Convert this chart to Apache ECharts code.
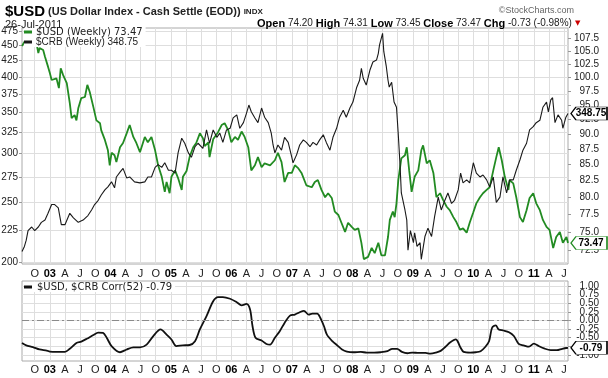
<!DOCTYPE html>
<html>
<head>
<meta charset="utf-8">
<title>$USD vs $CRB weekly</title>
<script src="https://cdn.jsdelivr.net/npm/echarts@6/dist/echarts.min.js"></script>
<style>
  html, body { margin: 0; padding: 0; background: #fff; }
  #chart { width: 608px; height: 378px; }
</style>
</head>
<body>
<div id="chart"></div>
<script>
// x values are decimal years (weekly closes)
const usdWeekly = [
  [2002.54,106.0],[2002.60,107.2],[2002.68,107.6],[2002.75,107.0],[2002.78,106.5],[2002.81,104.6],
  [2002.83,105.6],[2002.89,105.2],[2002.92,103.9],[2002.97,102.0],[2003.00,100.8],[2003.03,99.5],
  [2003.11,99.8],[2003.15,98.0],[2003.18,101.7],[2003.22,100.4],[2003.28,98.9],[2003.33,95.3],
  [2003.36,92.7],[2003.41,93.2],[2003.44,92.3],[2003.47,94.4],[2003.52,96.2],[2003.58,96.4],
  [2003.62,98.6],[2003.66,97.3],[2003.72,94.6],[2003.77,92.3],[2003.83,91.8],[2003.85,90.6],
  [2003.91,89.0],[2003.96,87.3],[2003.99,84.9],[2004.02,86.9],[2004.07,86.5],[2004.10,85.4],
  [2004.16,87.8],[2004.21,88.5],[2004.27,90.1],[2004.32,91.5],[2004.38,89.5],[2004.43,88.5],
  [2004.49,87.0],[2004.57,89.5],[2004.62,88.6],[2004.68,89.5],[2004.74,87.3],[2004.79,84.9],
  [2004.85,83.1],[2004.90,80.8],[2004.93,82.3],[2004.98,80.6],[2005.01,83.1],[2005.07,84.1],
  [2005.12,82.9],[2005.18,81.1],[2005.20,83.1],[2005.26,84.0],[2005.31,86.2],[2005.37,87.8],
  [2005.42,88.5],[2005.48,90.1],[2005.53,89.3],[2005.56,88.0],[2005.62,88.6],[2005.64,86.2],
  [2005.70,89.1],[2005.78,90.3],[2005.84,91.5],[2005.89,91.8],[2005.95,90.6],[2006.00,88.6],
  [2006.06,89.5],[2006.11,89.0],[2006.17,90.4],[2006.22,89.5],[2006.28,87.8],[2006.33,84.1],
  [2006.39,84.9],[2006.44,86.2],[2006.50,84.6],[2006.55,85.2],[2006.64,84.9],[2006.72,85.7],
  [2006.77,86.9],[2006.83,85.4],[2006.88,82.3],[2006.94,83.7],[2007.00,83.7],[2007.05,84.9],
  [2007.10,84.5],[2007.16,83.7],[2007.24,81.8],[2007.33,81.5],[2007.38,82.3],[2007.43,82.6],
  [2007.49,81.1],[2007.55,80.0],[2007.60,80.6],[2007.66,79.9],[2007.71,77.9],[2007.77,77.4],
  [2007.82,76.3],[2007.88,75.0],[2007.93,76.3],[2007.99,75.7],[2008.04,75.3],[2008.10,75.5],
  [2008.15,73.5],[2008.19,71.3],[2008.26,71.6],[2008.32,72.8],[2008.37,72.1],[2008.43,73.5],
  [2008.48,71.8],[2008.54,71.8],[2008.59,74.3],[2008.62,76.7],[2008.67,77.9],[2008.70,77.1],
  [2008.73,79.1],[2008.76,82.6],[2008.81,86.0],[2008.87,86.5],[2008.90,87.8],[2008.94,84.1],
  [2008.98,80.8],[2009.03,83.1],[2009.09,84.1],[2009.14,87.3],[2009.17,88.1],[2009.23,85.2],
  [2009.28,85.7],[2009.34,83.7],[2009.39,80.0],[2009.45,80.6],[2009.50,79.6],[2009.56,78.6],
  [2009.61,78.1],[2009.67,77.1],[2009.72,76.4],[2009.78,75.3],[2009.83,75.5],[2009.89,74.9],
  [2009.94,76.3],[2010.00,77.8],[2010.05,79.1],[2010.11,80.0],[2010.16,80.6],[2010.22,81.1],
  [2010.27,81.5],[2010.33,84.1],[2010.38,86.2],[2010.42,87.8],[2010.47,85.7],[2010.52,83.1],
  [2010.58,81.1],[2010.60,82.6],[2010.66,82.1],[2010.71,80.0],[2010.77,77.1],[2010.82,76.4],
  [2010.88,78.1],[2010.93,79.9],[2010.99,80.6],[2011.04,79.1],[2011.10,78.1],[2011.15,76.7],
  [2011.21,75.7],[2011.26,75.3],[2011.32,72.8],[2011.37,74.3],[2011.43,75.0],[2011.48,73.5],
  [2011.54,74.3],[2011.565,73.47]
];

const crbWeekly = [
  [2002.54,208],[2002.58,212],[2002.61,217],[2002.64,225],[2002.70,228],[2002.75,225],[2002.81,228],
  [2002.86,232],[2002.92,234],[2002.97,240],[2003.03,248],[2003.08,248],[2003.14,245],[2003.19,230],
  [2003.25,230],[2003.33,240],[2003.39,236],[2003.47,232],[2003.55,234],[2003.63,238],[2003.69,243],
  [2003.74,248],[2003.80,252],[2003.85,257],[2003.91,262],[2003.96,265],[2004.02,270],[2004.07,264],
  [2004.10,275],[2004.16,280],[2004.21,284],[2004.27,274],[2004.32,275],[2004.40,270],[2004.49,269],
  [2004.57,270],[2004.62,275],[2004.68,275],[2004.74,285],[2004.79,288],[2004.85,285],[2004.90,290],
  [2004.96,282],[2005.01,282],[2005.07,279],[2005.12,301],[2005.18,318],[2005.23,312],[2005.29,301],
  [2005.34,296],[2005.40,308],[2005.45,312],[2005.48,310],[2005.53,306],[2005.59,328],[2005.64,312],
  [2005.70,328],[2005.76,319],[2005.81,324],[2005.86,313],[2005.92,328],[2005.98,330],[2006.03,343],
  [2006.09,347],[2006.14,330],[2006.20,337],[2006.25,349],[2006.29,360],[2006.33,351],[2006.39,343],
  [2006.44,337],[2006.50,356],[2006.55,344],[2006.61,337],[2006.66,324],[2006.69,310],[2006.72,301],
  [2006.77,310],[2006.83,304],[2006.88,319],[2006.94,313],[2007.00,296],[2007.02,290],[2007.08,299],
  [2007.13,310],[2007.19,316],[2007.24,313],[2007.30,308],[2007.35,313],[2007.41,310],[2007.46,316],
  [2007.52,322],[2007.57,313],[2007.63,304],[2007.68,319],[2007.74,330],[2007.79,344],[2007.85,353],
  [2007.90,344],[2007.96,356],[2008.01,364],[2008.07,384],[2008.12,395],[2008.15,413],[2008.18,398],
  [2008.23,388],[2008.29,410],[2008.34,423],[2008.40,426],[2008.43,437],[2008.45,451],[2008.50,471],
  [2008.52,440],[2008.56,417],[2008.59,395],[2008.61,385],[2008.65,392],[2008.69,364],[2008.73,357],
  [2008.76,322],[2008.79,286],[2008.81,259],[2008.87,243],[2008.90,234],[2008.92,209],[2008.96,225],
  [2009.01,215],[2009.03,223],[2009.07,212],[2009.12,215],[2009.14,202],[2009.20,220],[2009.25,227],
  [2009.31,220],[2009.36,237],[2009.42,255],[2009.47,243],[2009.53,252],[2009.58,259],[2009.64,249],
  [2009.69,252],[2009.75,262],[2009.79,279],[2009.83,269],[2009.89,272],[2009.94,269],[2010.00,290],
  [2010.05,279],[2010.11,275],[2010.16,277],[2010.22,272],[2010.27,265],[2010.33,275],[2010.38,250],
  [2010.44,255],[2010.49,275],[2010.55,259],[2010.60,272],[2010.66,272],[2010.71,282],[2010.77,293],
  [2010.82,304],[2010.88,312],[2010.93,328],[2010.99,332],[2011.04,337],[2011.10,340],[2011.15,357],
  [2011.21,364],[2011.24,351],[2011.28,367],[2011.31,370],[2011.35,337],[2011.40,347],[2011.46,340],
  [2011.48,330],[2011.53,344],[2011.565,348.75]
];

// 52-week correlation, lower panel
const corr52 = [
  [2002.54,-0.65],[2002.61,-0.72],[2002.72,-0.77],[2002.83,-0.84],[2002.95,-0.87],[2003.00,-0.90],
  [2003.11,-0.91],[2003.25,-0.91],[2003.33,-0.82],[2003.44,-0.65],[2003.52,-0.61],[2003.61,-0.53],
  [2003.72,-0.42],[2003.80,-0.35],[2003.88,-0.36],[2003.94,-0.50],[2004.02,-0.74],[2004.16,-0.92],
  [2004.27,-0.84],[2004.38,-0.78],[2004.49,-0.78],[2004.60,-0.70],[2004.71,-0.45],[2004.83,-0.26],
  [2004.93,-0.41],[2005.01,-0.55],[2005.09,-0.74],[2005.20,-0.72],[2005.31,-0.71],[2005.40,-0.60],
  [2005.48,-0.26],[2005.59,0.13],[2005.70,0.56],[2005.78,0.68],[2005.86,0.68],[2005.98,0.63],
  [2006.09,0.53],[2006.17,0.44],[2006.25,0.48],[2006.31,0.32],[2006.35,-0.16],[2006.40,-0.50],
  [2006.50,-0.58],[2006.58,-0.68],[2006.64,-0.70],[2006.72,-0.50],[2006.80,-0.31],[2006.88,-0.07],
  [2006.97,0.14],[2007.05,0.17],[2007.13,0.24],[2007.20,0.28],[2007.28,0.17],[2007.34,0.20],
  [2007.42,0.20],[2007.47,0.08],[2007.53,-0.16],[2007.58,-0.41],[2007.67,-0.60],[2007.75,-0.72],
  [2007.83,-0.84],[2007.91,-0.90],[2008.02,-0.92],[2008.14,-0.91],[2008.24,-0.93],[2008.36,-0.93],
  [2008.47,-0.92],[2008.58,-0.89],[2008.66,-0.82],[2008.74,-0.82],[2008.82,-0.91],[2008.91,-0.95],
  [2008.99,-0.93],[2009.10,-0.94],[2009.21,-0.94],[2009.29,-0.96],[2009.38,-0.93],[2009.46,-0.88],
  [2009.54,-0.76],[2009.62,-0.63],[2009.71,-0.55],[2009.74,-0.60],[2009.79,-0.79],[2009.84,-0.91],
  [2009.95,-0.93],[2010.04,-0.92],[2010.12,-0.89],[2010.20,-0.76],[2010.26,-0.60],[2010.31,-0.21],
  [2010.37,-0.14],[2010.42,-0.26],[2010.50,-0.29],[2010.59,-0.34],[2010.67,-0.45],[2010.75,-0.68],
  [2010.83,-0.72],[2010.92,-0.76],[2011.00,-0.67],[2011.08,-0.74],[2011.17,-0.81],[2011.28,-0.86],
  [2011.38,-0.86],[2011.47,-0.82],[2011.565,-0.79]
];

const quarterTicks = [
  2002.75, 2003, 2003.25, 2003.5, 2003.75, 2004, 2004.25, 2004.5, 2004.75, 2005, 2005.25, 2005.5,
  2005.75, 2006, 2006.25, 2006.5, 2006.75, 2007, 2007.25, 2007.5, 2007.75, 2008, 2008.25, 2008.5,
  2008.75, 2009, 2009.25, 2009.5, 2009.75, 2010, 2010.25, 2010.5, 2010.75, 2011, 2011.25, 2011.5
];
const quarterLetters = ['', 'A', 'J', 'O'];
const crbTicks = [200, 225, 250, 275, 300, 325, 350, 375, 400, 425, 450, 475];
const usdTicks = [72.5, 75, 77.5, 80, 82.5, 85, 87.5, 90, 92.5, 95, 97.5, 100, 102.5, 105, 107.5];
const corrTicks = [-1, -0.75, -0.5, -0.25, 0, 0.25, 0.5, 0.75, 1];
// the corr labels sit closer than a text line, so they are split over two stacked axes
const corrLabelsA = [-1, -0.5, 0, 0.5, 1];
const corrLabelsB = [-0.75, -0.25, 0.25, 0.75];

const USD_LAST = 73.47, CRB_LAST = 348.75, CORR_LAST = -0.79;
const X_MIN = 2002.54, X_MAX = 2011.565;
const CORR_MIN = -1.174, CORR_MAX = 1.145;

const FONT = '"Liberation Sans", Arial, sans-serif';
const GREEN = '#228b22';
const GRID_LINE = '#dedede';

function quarterLabel(v) {
  const year = Math.floor(v + 1e-6);
  const q = Math.round((v - year) * 4);
  return q === 0 ? '{y|' + String(year).slice(2) + '}' : quarterLetters[q];
}

function priceTag(point, text, border) {
  return {
    silent: true,
    symbol: 'path://M0,6L5,0L36,0L36,12L5,12Z',
    symbolSize: [36, 13],
    symbolOffset: [21, 0],
    itemStyle: { color: '#fff', borderColor: border, borderWidth: 1 },
    label: {
      show: true, position: 'inside', offset: [2, 0], formatter: text,
      color: '#000', fontSize: 10, fontWeight: 'bold', fontFamily: FONT
    },
    data: [{ coord: point }]
  };
}

function timeAxis(gridIndex, margin) {
  return {
    type: 'value', gridIndex, min: X_MIN, max: X_MAX,
    axisLine: { show: false },
    axisTick: { show: false, customValues: quarterTicks },
    axisLabel: {
      customValues: quarterTicks, formatter: quarterLabel, margin, hideOverlap: false,
      fontFamily: FONT, fontSize: 11, color: '#222',
      rich: { y: { fontFamily: FONT, fontSize: 11, fontWeight: 'bold', color: '#000' } }
    },
    splitLine: { show: true, lineStyle: { color: GRID_LINE, width: 1 } }
  };
}

function priceAxis(extra) {
  return Object.assign({
    axisLine: { show: false },
    axisTick: { show: extra.tickShow !== false, length: 3, customValues: extra.ticks,
      lineStyle: { color: '#999' } },
    axisLabel: {
      customValues: extra.labels || extra.ticks, showMinLabel: true, showMaxLabel: true,
      hideOverlap: false, margin: extra.margin, align: 'right', fontFamily: FONT,
      fontSize: 10, color: '#222', formatter: extra.format
    },
    splitLine: { show: extra.split, lineStyle: { color: GRID_LINE, width: 1 } }
  }, extra.axis);
}

const chart = echarts.init(document.getElementById('chart'));

chart.setOption({
  animation: false,
  backgroundColor: '#fff',
  textStyle: { fontFamily: FONT },
  title: [
    {
      left: 5, top: 4, padding: 0,
      text: '{a|$USD} {b|(US Dollar Index - Cash Settle (EOD))} {c|INDX}',
      textStyle: {
        fontSize: 11, color: '#222',
        rich: {
          a: { fontFamily: FONT, fontSize: 15, fontWeight: 'bold', color: '#000' },
          b: { fontFamily: FONT, fontSize: 11, color: '#222' },
          c: { fontFamily: FONT, fontSize: 8, color: '#222' }
        }
      }
    },
    { left: 5, top: 19, padding: 0, text: '26-Jul-2011',
      textStyle: { fontFamily: FONT, fontSize: 11, fontWeight: 'normal', color: '#222' } },
    { right: 34, top: 6, padding: 0, text: '\u00a9StockCharts.com',
      textStyle: { fontFamily: FONT, fontSize: 9, fontWeight: 'normal', color: '#666' } },
    {
      left: 257, top: 18, padding: 0,
      text: '{k|Open} 74.20 {k|High} 74.31 {k|Low} 73.45 {k|Close} 73.47 {k|Chg} -0.73 (-0.98%){t|\u25bc}',
      textStyle: {
        fontFamily: FONT, fontSize: 10, fontWeight: 'normal', color: '#222',
        rich: {
          k: { fontFamily: FONT, fontSize: 11, fontWeight: 'bold', color: '#000' },
          t: { fontFamily: 'DejaVu Sans', fontSize: 7, color: '#cc0000', padding: [0, 0, 0, 3] }
        }
      }
    }
  ],
  legend: [
    {
      left: 24, top: 27, orient: 'vertical', itemGap: 0, padding: [0, 3, 0, 0],
      backgroundColor: '#fff', icon: 'rect', itemWidth: 8, itemHeight: 3, selectedMode: false,
      data: [
        { name: '$USD', textStyle: { fontFamily: 'DejaVu Sans', fontSize: 10 } },
        { name: '$CRB', textStyle: { fontFamily: FONT, fontSize: 10 } }
      ],
      formatter: name => name === '$USD'
        ? '$USD (Weekly) ' + USD_LAST : '$CRB (Weekly) ' + CRB_LAST,
      textStyle: { color: '#222', lineHeight: 10, padding: [0, 0, 0, -1] }
    },
    {
      left: 24, top: 282, padding: [0, 3, 0, 0], backgroundColor: '#fff',
      icon: 'rect', itemWidth: 8, itemHeight: 3, selectedMode: false,
      data: ['$USD, $CRB Corr(52)'],
      formatter: name => name + ' ' + CORR_LAST,
      textStyle: { fontFamily: 'DejaVu Sans', fontSize: 10, color: '#222', lineHeight: 10 }
    }
  ],
  grid: [
    { left: 22, top: 28, width: 546, height: 236, show: true, borderColor: '#aaa',
      borderWidth: 1, outerBoundsMode: 'none' },
    { left: 22, top: 281, width: 546, height: 80, show: true, borderColor: '#aaa',
      borderWidth: 1, outerBoundsMode: 'none' }
  ],
  xAxis: [timeAxis(0, 4), timeAxis(1, 3)],
  yAxis: [
    priceAxis({
      ticks: crbTicks, margin: 4, split: true,
      format: v => String(Math.round(v)),
      axis: { type: 'log', gridIndex: 0, position: 'left', min: 198.5, max: 480.4 }
    }),
    priceAxis({
      ticks: usdTicks, margin: 31, split: false,
      format: v => v.toFixed(1),
      axis: { type: 'log', gridIndex: 0, position: 'right', min: 70.66, max: 109.6 }
    }),
    priceAxis({
      ticks: corrTicks, labels: corrLabelsA, margin: 31, split: true,
      format: v => v.toFixed(2),
      axis: { type: 'value', gridIndex: 1, position: 'right', min: CORR_MIN, max: CORR_MAX }
    }),
    priceAxis({
      ticks: corrTicks, labels: corrLabelsB, margin: 31, split: false, tickShow: false,
      format: v => v.toFixed(2),
      axis: { type: 'value', gridIndex: 1, position: 'right', min: CORR_MIN, max: CORR_MAX }
    })
  ],
  series: [
    {
      name: '$USD', type: 'line', xAxisIndex: 0, yAxisIndex: 1, data: usdWeekly,
      showSymbol: false, clip: false, color: GREEN,
      lineStyle: { color: GREEN, width: 1.8 },
      markPoint: priceTag([X_MAX, USD_LAST], String(USD_LAST), GREEN)
    },
    {
      name: '$CRB', type: 'line', xAxisIndex: 0, yAxisIndex: 0, data: crbWeekly,
      showSymbol: false, clip: false, color: '#1a1a1a',
      lineStyle: { color: '#1a1a1a', width: 1.1 },
      markPoint: priceTag([X_MAX, CRB_LAST], CRB_LAST.toFixed(2), '#000')
    },
    {
      name: '$USD, $CRB Corr(52)', type: 'line', xAxisIndex: 1, yAxisIndex: 2, data: corr52,
      showSymbol: false, clip: false, smooth: 0.3, color: '#111',
      lineStyle: { color: '#111', width: 1.8 },
      markLine: {
        silent: true, symbol: 'none', label: { show: false },
        lineStyle: { color: '#8a8a8a', width: 1, type: [7, 3, 2, 3] },
        data: [{ yAxis: 0 }]
      },
      markPoint: priceTag([X_MAX, CORR_LAST], CORR_LAST.toFixed(2), '#000')
    }
  ]
});
</script>
</body>
</html>
